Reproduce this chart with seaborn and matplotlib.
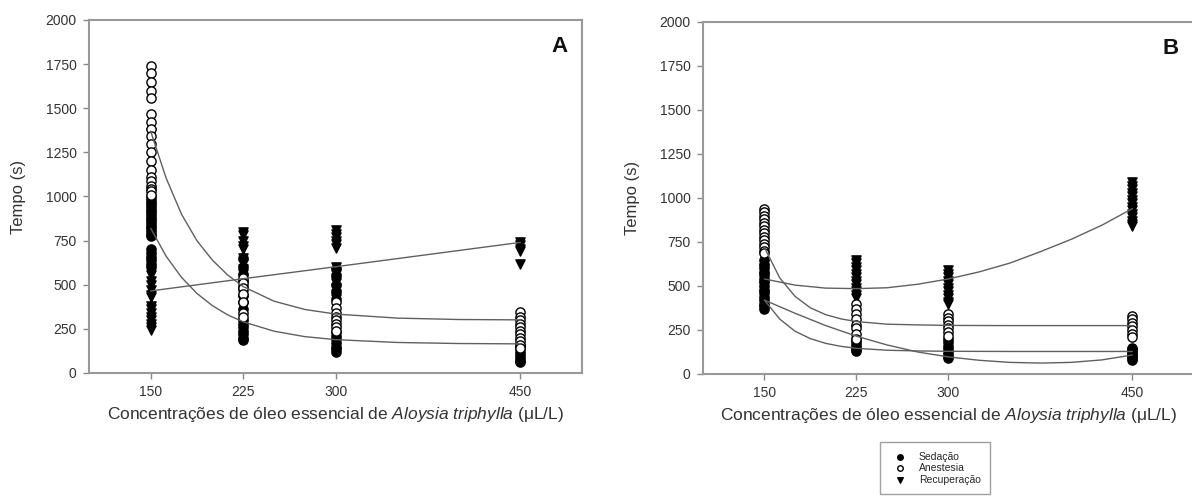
import pandas as pd
import seaborn as sns
import matplotlib.pyplot as plt

# Pontos observados (tempo em s) por concentração - painel A
a150_sed = [1000, 985, 970, 955, 940, 925, 910, 895, 880, 865, 850, 835, 820, 805, 790, 775, 700, 680, 660, 640, 620, 600]
a150_ane = [1740, 1700, 1650, 1600, 1560, 1470, 1420, 1380, 1340, 1300, 1250, 1200, 1150, 1110, 1090, 1060, 1040, 1030, 1010]
a150_rec = [1360, 555, 520, 500, 470, 440, 430, 380, 360, 340, 320, 300, 280, 260, 245]
a225_sed = [650, 600, 560, 520, 480, 440, 400, 360, 300, 280, 260, 240, 220, 200, 185]
a225_ane = [540, 510, 480, 450, 400, 340, 320]
a225_rec = [800, 780, 750, 720, 700, 650, 620, 590, 560, 530, 500, 470, 440, 410, 380]
a300_sed = [590, 550, 500, 460, 420, 230, 210, 190, 170, 150, 135, 120]
a300_ane = [400, 370, 340, 320, 300, 280, 260, 240]
a300_rec = [810, 790, 770, 750, 730, 710, 600, 570, 540, 510, 480, 450, 420]
a450_sed = [160, 140, 120, 100, 85, 70, 60]
a450_ane = [345, 320, 300, 280, 260, 240, 220, 200, 180, 160, 140]
a450_rec = [745, 725, 705, 690, 620]

# painel B
b150_sed = [650, 620, 600, 580, 560, 540, 520, 500, 480, 460, 440, 420, 400, 385, 370]
b150_ane = [940, 920, 900, 880, 860, 840, 820, 800, 780, 760, 740, 720, 700, 690]
b150_rec = [600, 550, 500, 450]
b225_sed = [200, 180, 165, 150, 140, 130]
b225_ane = [400, 370, 340, 310, 280, 260, 230, 200]
b225_rec = [650, 630, 610, 590, 570, 550, 530, 510, 490, 470, 450, 430]
b300_sed = [200, 180, 160, 140, 120, 105, 90]
b300_ane = [340, 320, 300, 280, 260, 240, 215]
b300_rec = [590, 570, 550, 530, 510, 490, 470, 450, 430, 410, 400]
b450_sed = [150, 140, 130, 120, 110, 100, 90, 80]
b450_ane = [330, 310, 290, 270, 250, 230, 210]
b450_rec = [1090, 1070, 1050, 1030, 1010, 990, 970, 950, 930, 910, 890, 870, 850, 840]

# Curvas ajustadas
curva_x = [150, 162.5, 175, 187.5, 200, 212.5, 225, 250, 275, 300, 350, 400, 450]
a_ane_curva = [1370, 1105, 900, 750, 640, 555, 490, 407, 360, 334, 311, 303, 301]
a_sed_curva = [820, 662, 542, 451, 382, 329, 290, 237, 206, 189, 173, 167, 165]
a_rec_x = [150, 225, 300, 450]
a_rec_curva = [465, 534, 602, 740]
b_ane_curva = [720, 546, 441, 376, 337, 313, 298, 283, 279, 276, 275, 275, 275]
b_sed_curva = [420, 312, 243, 201, 174, 157, 146, 135, 131, 129, 128, 128, 128]
b_x2 = [150, 175, 200, 225, 250, 275, 300, 325, 350, 375, 400, 425, 450]
b_rec_curva = [540, 505, 488, 485, 490, 510, 540, 580, 630, 695, 765, 845, 940]
b_sed2_curva = [420, 345, 275, 215, 165, 125, 97, 78, 66, 62, 66, 80, 108]

concs = [150, 225, 300, 450]
grupos = ['Sedação', 'Anestesia', 'Recuperação']


def monta_df(listas):
	linhas = []
	for conc, trio in zip(concs, listas):
		for grupo, valores in zip(grupos, trio):
			for v in valores:
				linhas.append({'conc': conc, 'tempo': v, 'grupo': grupo})
	return pd.DataFrame(linhas)


df_a = monta_df([(a150_sed, a150_ane, a150_rec), (a225_sed, a225_ane, a225_rec),
				 (a300_sed, a300_ane, a300_rec), (a450_sed, a450_ane, a450_rec)])
df_b = monta_df([(b150_sed, b150_ane, b150_rec), (b225_sed, b225_ane, b225_rec),
				 (b300_sed, b300_ane, b300_rec), (b450_sed, b450_ane, b450_rec)])

sns.set_style('white')
plt.rcParams['font.family'] = ['Liberation Sans', 'DejaVu Sans']
plt.rcParams['mathtext.fontset'] = 'custom'
plt.rcParams['mathtext.rm'] = 'Liberation Sans'
plt.rcParams['mathtext.it'] = 'Liberation Sans:italic'

fig = plt.figure(figsize=(11.92, 5.01), dpi=100)
ax_a = fig.add_axes([0.0747, 0.2555, 0.4136, 0.7046])
ax_b = fig.add_axes([0.5898, 0.2535, 0.4117, 0.7026])

estilos = {
	'Sedação': dict(marker='o', color='black', edgecolor='black'),
	'Anestesia': dict(marker='o', color='white', edgecolor='black'),
	'Recuperação': dict(marker='v', color='black', edgecolor='black'),
}
cor_linha = '#606060'

for ax, df in [(ax_a, df_a), (ax_b, df_b)]:
	for grupo in ['Recuperação', 'Sedação', 'Anestesia']:
		d = df[df['grupo'] == grupo]
		sns.scatterplot(data=d, x='conc', y='tempo', ax=ax, s=44, linewidth=1.0,
						label=grupo, zorder=3, **estilos[grupo])

sns.lineplot(x=curva_x, y=a_ane_curva, ax=ax_a, color=cor_linha, lw=1, zorder=4)
sns.lineplot(x=curva_x, y=a_sed_curva, ax=ax_a, color=cor_linha, lw=1, zorder=4)
sns.lineplot(x=a_rec_x, y=a_rec_curva, ax=ax_a, color=cor_linha, lw=1, zorder=4)
sns.lineplot(x=curva_x, y=b_ane_curva, ax=ax_b, color=cor_linha, lw=1, zorder=4)
sns.lineplot(x=curva_x, y=b_sed_curva, ax=ax_b, color=cor_linha, lw=1, zorder=4)
sns.lineplot(x=b_x2, y=b_rec_curva, ax=ax_b, color=cor_linha, lw=1, zorder=4)
sns.lineplot(x=b_x2, y=b_sed2_curva, ax=ax_b, color=cor_linha, lw=1, zorder=4)

handles, labels = ax_a.get_legend_handles_labels()

for ax, letra in [(ax_a, 'A'), (ax_b, 'B')]:
	if ax.get_legend() is not None:
		ax.get_legend().remove()
	ax.set_xlim(100, 500)
	ax.set_ylim(0, 2000)
	ax.set_xticks(concs)
	ax.set_yticks(range(0, 2001, 250))
	ax.tick_params(direction='out', length=4, width=1, color='#888888', pad=5,
				   labelsize=10, labelcolor='#333333', left=True, bottom=True)
	for sp in ax.spines.values():
		sp.set_color('#999999')
		sp.set_linewidth(1.5)
	ax.set_ylabel('Tempo (s)', fontsize=12, color='#333333', labelpad=14)
	ax.set_xlabel('Concentrações de óleo essencial de $\\it{Aloysia\\ triphylla}$ (μL/L)',
				  fontsize=12.5, color='#333333', labelpad=4)
	ax.text(0.97, 0.955, letra, transform=ax.transAxes, ha='right', va='top',
			fontsize=16, fontweight='bold', color='#111111')

ordem = [labels.index(g) for g in grupos]
fig.legend([handles[i] for i in ordem], grupos, loc='upper left',
		   bbox_to_anchor=(875 / 1192, 1 - 437 / 501), fontsize=7.5,
		   frameon=True, fancybox=False, edgecolor='#888888', markerscale=0.6,
		   handletextpad=0.8, labelspacing=0.15, borderpad=0.9)

plt.savefig('out.png', dpi=100)
